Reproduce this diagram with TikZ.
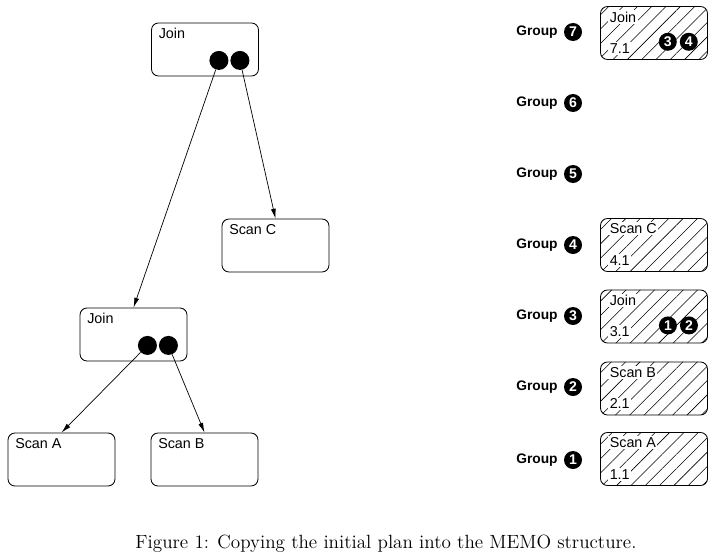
\documentclass[tikz,border=0pt]{standalone}
\usepackage{fontspec}
\newfontfamily\helv{Liberation Sans}
\usetikzlibrary{arrows.meta,patterns.meta}

\begin{document}
\begin{tikzpicture}[x=0.025cm, y=-0.025cm,
    op/.style={draw, rounded corners=5pt, minimum width=2.675cm, minimum height=1.325cm,
        inner sep=0pt, line width=.6pt},
    memo/.style={op, pattern={Lines[angle=45, distance=7.2pt, line width=.4pt]}},
    oplabel/.style={font=\helv\fontsize{10.2}{12}\selectfont, inner sep=1pt, fill=white},
    port/.style={circle, fill=black, inner sep=0pt, minimum size=.475cm},
    num/.style={circle, fill=black, text=white, inner sep=0pt, minimum size=.45cm,
        font=\helv\bfseries\fontsize{10}{11}\selectfont},
    grp/.style={font=\helv\bfseries\fontsize{9.8}{11}\selectfont, inner sep=0pt},
    edge/.style={-{Latex[length=7pt, width=3.5pt]}, line width=.5pt}
        ]

    \path [use as bounding box] (0,0) rectangle (722,558);

    % initial plan
    \node [op] (join1) at (205,49.5) {};
    \node [op] (scanC) at (275.5,245.5) {};
    \node [op] (join2) at (133.5,334.5) {};
    \node [op] (scanA) at (61.5,459.5) {};
    \node [op] (scanB) at (204.5,459.5) {};

    \node [oplabel, fill=none, anchor=north west] at ([xshift=.15cm, yshift=-.1cm]join1.north west) {Join};
    \node [oplabel, fill=none, anchor=north west] at ([xshift=.15cm, yshift=-.1cm]scanC.north west) {Scan C};
    \node [oplabel, fill=none, anchor=north west] at ([xshift=.15cm, yshift=-.1cm]join2.north west) {Join};
    \node [oplabel, fill=none, anchor=north west] at ([xshift=.15cm, yshift=-.1cm]scanA.north west) {Scan A};
    \node [oplabel, fill=none, anchor=north west] at ([xshift=.15cm, yshift=-.1cm]scanB.north west) {Scan B};

    \node [port] (j1l) at ([xshift=-1cm, yshift=.4cm]join1.south east) {};
    \node [port] (j1r) at ([xshift=-.475cm, yshift=.4cm]join1.south east) {};
    \node [port] (j2l) at ([xshift=-1cm, yshift=.4cm]join2.south east) {};
    \node [port] (j2r) at ([xshift=-.475cm, yshift=.4cm]join2.south east) {};

    \draw [edge] (j1l) -- (join2.north);
    \draw [edge] (j1r) -- (scanC.north);
    \draw [edge] (j2l) -- (scanA.north);
    \draw [edge] (j2r) -- (scanB.north);

    % MEMO structure
    \node [grp, anchor=west] (g7) at (516,32) {Group};
    \node [grp, anchor=west] (g6) at (516,103) {Group};
    \node [grp, anchor=west] (g5) at (516,174) {Group};
    \node [grp, anchor=west] (g4) at (516,245) {Group};
    \node [grp, anchor=west] (g3) at (516,316) {Group};
    \node [grp, anchor=west] (g2) at (516,387) {Group};
    \node [grp, anchor=west] (g1) at (516,460) {Group};

    \node [num] (n7) at (573,32) {7};
    \node [num] (n6) at (573,103) {6};
    \node [num] (n5) at (573,174) {5};
    \node [num] (n4) at (573,245) {4};
    \node [num] (n3) at (573,316) {3};
    \node [num] (n2) at (573,387) {2};
    \node [num] (n1) at (573,460) {1};

    \node [memo] (m7) at (654,33) {};
    \node [memo] (m4) at (654,245) {};
    \node [memo] (m3) at (654,316.5) {};
    \node [memo] (m2) at (654,388.5) {};
    \node [memo] (m1) at (654,459) {};

    \node [oplabel, anchor=north west] at ([xshift=.2cm, yshift=-.1cm]m7.north west) {Join};
    \node [oplabel, anchor=south west] at ([xshift=.2cm, yshift=.12cm]m7.south west) {7.1};
    \node [oplabel, anchor=north west] at ([xshift=.2cm, yshift=-.1cm]m4.north west) {Scan C};
    \node [oplabel, anchor=south west] at ([xshift=.2cm, yshift=.12cm]m4.south west) {4.1};
    \node [oplabel, anchor=north west] at ([xshift=.2cm, yshift=-.1cm]m3.north west) {Join};
    \node [oplabel, anchor=south west] at ([xshift=.2cm, yshift=.12cm]m3.south west) {3.1};
    \node [oplabel, anchor=north west] at ([xshift=.2cm, yshift=-.1cm]m2.north west) {Scan B};
    \node [oplabel, anchor=south west] at ([xshift=.2cm, yshift=.12cm]m2.south west) {2.1};
    \node [oplabel, anchor=north west] at ([xshift=.2cm, yshift=-.1cm]m1.north west) {Scan A};
    \node [oplabel, anchor=south west] at ([xshift=.2cm, yshift=.12cm]m1.south west) {1.1};

    \node [num] (m7l) at ([xshift=-1cm, yshift=.45cm]m7.south east) {3};
    \node [num] (m7r) at ([xshift=-.475cm, yshift=.45cm]m7.south east) {4};
    \node [num] (m3l) at ([xshift=-1cm, yshift=.45cm]m3.south east) {1};
    \node [num] (m3r) at ([xshift=-.475cm, yshift=.45cm]m3.south east) {2};

    \node (caption) at (386,544) {\fontsize{13.6}{16}\selectfont Figure 1: Copying the initial plan into the MEMO structure.};

\end{tikzpicture}
\end{document}
